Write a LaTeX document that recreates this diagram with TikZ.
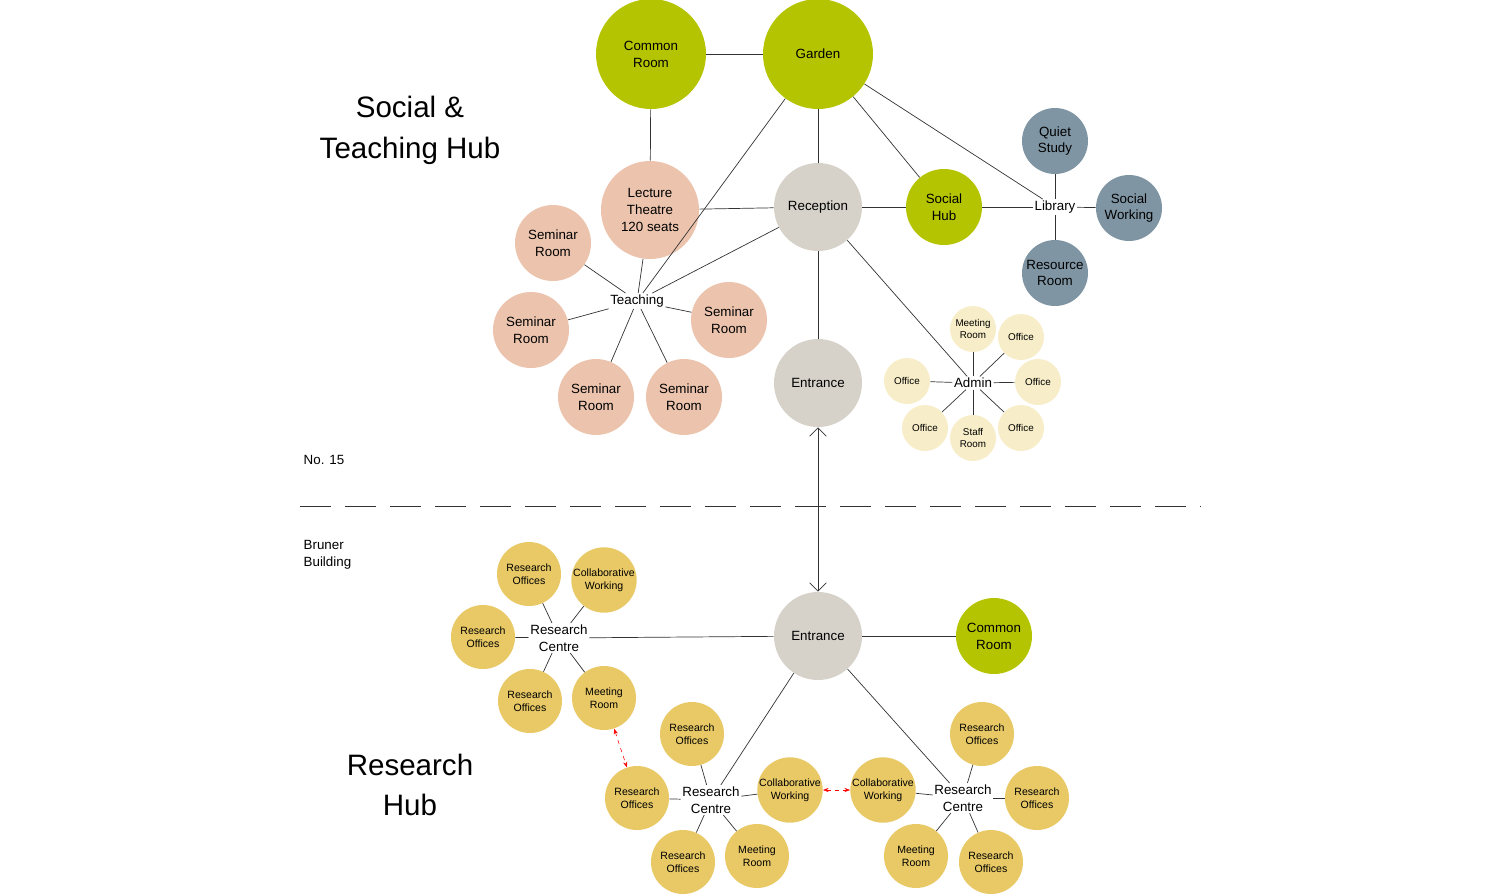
\documentclass[tikz,border=0pt]{standalone}
\usepackage{fontspec}
\setmainfont{Liberation Sans}
\usetikzlibrary{arrows.meta}
\definecolor{leaf}{RGB}{181,196,0}
\definecolor{salmon}{RGB}{236,196,174}
\definecolor{stone}{RGB}{214,210,202}
\definecolor{slate}{RGB}{127,149,163}
\definecolor{cream}{RGB}{247,237,200}
\definecolor{mustard}{RGB}{232,201,102}
\tikzset{
  room/.style={circle,inner sep=0pt,align=center,font=\fontsize{9.5}{12}\selectfont},
  big/.style={room,fill=leaf,minimum size=110*0.025cm},
  green/.style={room,fill=leaf,minimum size=76*0.025cm},
  teach/.style={room,fill=salmon,minimum size=76*0.025cm},
  core/.style={room,fill=stone,minimum size=88*0.025cm},
  study/.style={room,fill=slate,minimum size=66*0.025cm},
  small/.style={room,fill=cream,minimum size=46*0.025cm,font=\fontsize{7}{8.5}\selectfont},
  res/.style={room,fill=mustard,minimum size=64*0.025cm,font=\fontsize{7.5}{9}\selectfont},
  hub/.style={fill=white,inner sep=1pt,align=center,font=\fontsize{9.5}{12}\selectfont},
  link/.style={draw=black!80,line width=0.5pt},
  title/.style={align=center,font=\fontsize{21}{29}\selectfont}
}
\begin{document}
\begin{tikzpicture}[x=0.025cm,y=-0.025cm]
    \useasboundingbox (0,0) rectangle (1500,895);

    % Social & Teaching Hub
    \node[big] (common) at (651,54) {Common\\Room};
    \node[big] (garden) at (818,54) {Garden};
    \node[room,fill=salmon,minimum size=98*0.025cm] (lecture) at (650,210) {Lecture\\Theatre\\120 seats};
    \node[core] (reception) at (818,207) {Reception};
    \node[green] (social) at (944,207) {Social\\Hub};
    \node[hub] (library) at (1055,207) {Library};
    \node[study] (quiet) at (1055,141) {Quiet\\Study};
    \node[study] (working) at (1129,208) {Social\\Working};
    \node[study] (resource) at (1055,273) {Resource\\Room};
    \node[hub] (teaching) at (637,301) {Teaching};
    \node[teach] (sem1) at (553,243) {Seminar\\Room};
    \node[teach] (sem2) at (531,330) {Seminar\\Room};
    \node[teach] (sem3) at (596,397) {Seminar\\Room};
    \node[teach] (sem4) at (684,397) {Seminar\\Room};
    \node[teach] (sem5) at (729,320) {Seminar\\Room};
    \node[core] (entrance) at (818,383) {Entrance};
    \node[hub] (admin) at (973,383) {Admin};
    \node[small] (adm1) at (973,329) {Meeting\\Room};
    \node[small] (adm2) at (1021,337) {Office};
    \node[small] (adm3) at (1038,382) {Office};
    \node[small] (adm4) at (1021,428) {Office};
    \node[small] (adm5) at (973,438) {Staff\\Room};
    \node[small] (adm6) at (925,428) {Office};
    \node[small] (adm7) at (907,381) {Office};

    \draw[link] (common) -- (garden);
    \draw[link] (common) -- (lecture);
    \draw[link] (garden) -- (reception);
    \draw[link] (garden) -- (teaching);
    \draw[link] (garden) -- (social);
    \draw[link] (garden) -- (library);
    \draw[link] (lecture) -- (reception);
    \draw[link] (lecture) -- (teaching);
    \draw[link] (reception) -- (teaching);
    \draw[link] (reception) -- (social);
    \draw[link] (reception) -- (entrance);
    \draw[link] (reception) -- (admin);
    \draw[link] (social) -- (library);
    \foreach \r in {quiet,working,resource} \draw[link] (library) -- (\r);
    \foreach \r in {sem1,sem2,sem3,sem4,sem5} \draw[link] (teaching) -- (\r);
    \foreach \r in {adm1,adm2,adm3,adm4,adm5,adm6,adm7} \draw[link] (admin) -- (\r);

    % Titles and divider
    \node[title] (toptitle) at (410,130) {Social \&\\Teaching Hub};
    \node[title] (bottitle) at (410,785) {Research\\Hub};
    \node[hub,anchor=west] (no15) at (302,460) {No. 15};
    \node[hub,anchor=west,align=left] (bruner) at (302,555) {Bruner\\Building};
    \coordinate (divl) at (300,506);
    \coordinate (divr) at (1200,506);
    \draw[link,dash pattern=on 22pt off 10pt] (divl) -- (divr);

    % Research Hub
    \node[core] (entrance2) at (818,636) {Entrance};
    \node[green] (common2) at (994,636) {Common\\Room};
    \draw[link,{Straight Barb[length=6pt]}-{Straight Barb[length=6pt]}] (entrance) -- (entrance2);
    \draw[link] (entrance2) -- (common2);

    \node[hub] (rcl) at (559,638) {Research\\Centre};
    \node[res] (l1) at (529,574) {Research\\Offices};
    \node[res] (l2) at (604,580) {Collaborative\\Working};
    \node[res] (l3) at (483,637) {Research\\Offices};
    \node[res] (l4) at (530,701) {Research\\Offices};
    \node[res] (l5) at (604,698) {Meeting\\Room};

    \node[hub] (rcm) at (711,800) {Research\\Centre};
    \node[res] (m1) at (692,734) {Research\\Offices};
    \node[res] (m2) at (790,790) {Collaborative\\Working};
    \node[res] (m3) at (637,798) {Research\\Offices};
    \node[res] (m4) at (683,862) {Research\\Offices};
    \node[res] (m5) at (757,856) {Meeting\\Room};

    \node[hub] (rcr) at (963,798) {Research\\Centre};
    \node[res] (r1) at (982,734) {Research\\Offices};
    \node[res] (r2) at (883,790) {Collaborative\\Working};
    \node[res] (r3) at (1037,798) {Research\\Offices};
    \node[res] (r4) at (991,862) {Research\\Offices};
    \node[res] (r5) at (916,856) {Meeting\\Room};

    \foreach \c in {rcl,rcm,rcr} \draw[link] (entrance2) -- (\c);
    \foreach \r in {l1,l2,l3,l4,l5} \draw[link] (rcl) -- (\r);
    \foreach \r in {m1,m2,m3,m4,m5} \draw[link] (rcm) -- (\r);
    \foreach \r in {r1,r2,r3,r4,r5} \draw[link] (rcr) -- (\r);

    % shared links
    \draw[red,dashed,{Stealth[length=4pt]}-{Stealth[length=4pt]}] (l5) -- (m3);
    \draw[red,dashed,{Stealth[length=4pt]}-{Stealth[length=4pt]}] (m2) -- (r2);
\end{tikzpicture}
\end{document}
